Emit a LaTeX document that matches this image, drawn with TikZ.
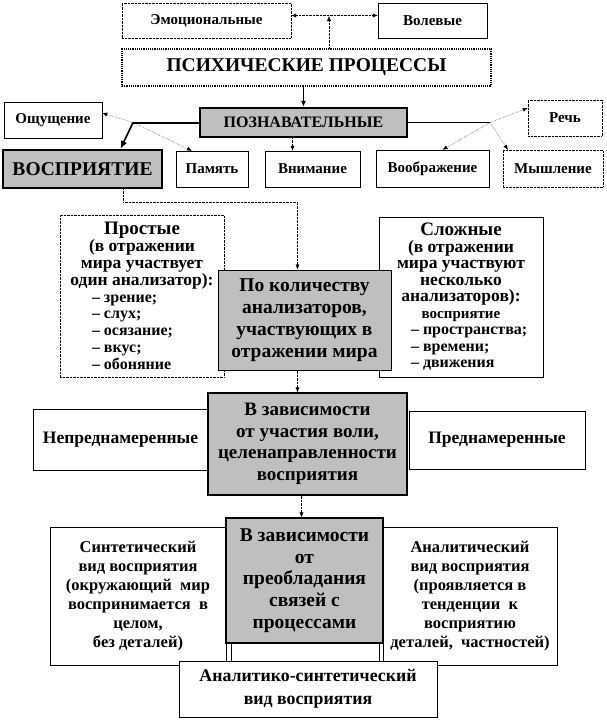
\documentclass[tikz,border=0pt]{standalone}
\usepackage{fontspec}
\setmainfont{Liberation Serif}
\usetikzlibrary{arrows.meta}
\newcommand{\lstitem}[1]{\makebox[100pt][l]{\fontsize{16}{16}\selectfont #1}}

\begin{document}
\begin{tikzpicture}[x=1pt,y=-1pt,
  box/.style={draw, fill=white, align=center, inner sep=1pt, font=\bfseries\fontsize{15}{16}\selectfont},
  dotbox/.style={box, densely dotted},
  graybox/.style={draw, fill=gray!50, line width=1.2pt, align=center, inner sep=1pt, font=\bfseries\fontsize{19}{21.5}\selectfont},
  link/.style={densely dotted, -{Latex[length=5pt,width=4pt]}},
  ]
\useasboundingbox (0,0) rectangle (606,720);

% psychic processes
\node[dotbox, minimum width=169pt, minimum height=35pt] (emo) at (206.5,20.5) {Эмоциональные};
\node[box, minimum width=109pt, minimum height=35pt] (vol) at (432.5,20.5) {Волевые};
\node[dotbox, line width=1.2pt, minimum width=369pt, minimum height=37pt, font=\bfseries\fontsize{19.5}{21}\selectfont] (psy) at (306.5,67.5) {ПСИХИЧЕСКИЕ ПРОЦЕССЫ};
\node[graybox, line width=2.2pt, minimum width=207pt, minimum height=29pt, font=\bfseries\fontsize{16}{17}\selectfont] (pozn) at (303.5,122.5) {ПОЗНАВАТЕЛЬНЫЕ};

\node[box, minimum width=98pt, minimum height=36pt] (oshch) at (53,120) {Ощущение};
\node[dotbox, minimum width=74pt, minimum height=36pt] (rech) at (565,118) {Речь};
\node[graybox, line width=2.2pt, minimum width=159pt, minimum height=38pt, font=\bfseries\fontsize{19.5}{21}\selectfont] (vospr) at (82.5,169) {ВОСПРИЯТИЕ};
\node[box, minimum width=72pt, minimum height=36pt] (pamyat) at (212,169) {Память};
\node[box, minimum width=95pt, minimum height=36pt] (vnim) at (312.5,169) {Внимание};
\node[box, minimum width=113pt, minimum height=37pt] (voobr) at (432.5,168.5) {Воображение};
\node[dotbox, minimum width=100pt, minimum height=37pt] (mysh) at (553,168.5) {Мышление};

% by number of analyzers
\node[dotbox, minimum width=164pt, minimum height=162pt, font=\bfseries\fontsize{17.5}{16.8}\selectfont] (prost) at (142,296)
  {{\fontsize{19}{16.8}\selectfont Простые}\\(в отражении\\мира участвует\\один анализатор):\\
   \lstitem{– зрение;}\\\lstitem{– слух;}\\\lstitem{– осязание;}\\\lstitem{– вкус;}\\\lstitem{– обоняние}};
\node[box, minimum width=164pt, minimum height=160pt, font=\bfseries\fontsize{17.5}{16.5}\selectfont] (slozh) at (461,297)
  {{\fontsize{19}{16.5}\selectfont Сложные}\\(в отражении\\мира участвуют\\несколько\\анализаторов):\\
   {\fontsize{15}{19}\selectfont восприятие}\\\lstitem{– пространства;}\\\lstitem{– времени;}\\\lstitem{– движения}};
\node[graybox, line width=1pt, minimum width=173pt, minimum height=100pt, font=\bfseries\fontsize{19.5}{22}\selectfont] (kolvo) at (304.5,320)
  {По количеству\\анализаторов,\\участвующих в\\отражении мира};

% by will
\node[box, minimum width=175pt, minimum height=61pt, font=\bfseries\fontsize{17.5}{18}\selectfont] (nepred) at (120.5,439.5) {Непреднамеренные};
\node[box, minimum width=176pt, minimum height=58pt, font=\bfseries\fontsize{17.5}{18}\selectfont] (pred) at (497,440) {Преднамеренные};
\node[graybox, minimum width=199pt, minimum height=102pt] (volya) at (307.5,444)
  {В зависимости\\от участия воли,\\целенаправленности\\восприятия};

% by connections
\node[box, minimum width=176pt, minimum height=138pt, font=\bfseries\fontsize{16.5}{19}\selectfont] (sint) at (138,596)
  {Синтетический\\вид восприятия\\(окружающий~ мир\\воспринимается~ в\\целом,\\без деталей)};
\node[box, minimum width=174pt, minimum height=138pt, font=\bfseries\fontsize{16.5}{19}\selectfont] (anal) at (470,596)
  {Аналитический\\вид восприятия\\(проявляется в\\тенденции~ к\\восприятию\\деталей,~ частностей)};
\draw[thin] (231,600) rectangle (379,670);
\node[graybox, minimum width=157pt, minimum height=125pt, font=\bfseries\fontsize{19.5}{21.7}\selectfont] (preobl) at (304.5,580.5)
  {В зависимости\\от\\преобладания\\связей с\\процессами};
\node[box, minimum width=258pt, minimum height=56pt, font=\bfseries\fontsize{17.8}{23}\selectfont] (analsint) at (308,689)
  {Аналитико-синтетический\\вид восприятия};

% connectors
\coordinate (emv) at (329,16);
\coordinate (lj) at (133,122.5);
\coordinate (rj) at (490,122.5);
\draw[link, {Latex[length=5pt,width=4pt]}-{Latex[length=5pt,width=4pt]}] ([yshift=5pt]emo.east) -- ([yshift=5pt]vol.west);
\draw[link] (psy.north -| emv) -- (emv);
\draw[-{Latex[length=6pt,width=5pt]}, line width=1.2pt] (psy.south -| pozn.north) -- (pozn.north);
\draw[line width=2pt] (pozn.west) -- (lj);
\draw[link] (lj) -- ([yshift=7pt]oshch.east);
\draw[line width=1.6pt, -{Latex[length=8pt,width=7pt]}] (lj) -- ([xshift=38pt]vospr.north);
\draw[link] (lj) -- ([xshift=-20pt]pamyat.north);
\draw[link] ([xshift=-20pt]vnim.north |- pozn.south) -- ([xshift=-20pt]vnim.north);
\draw (pozn.east) -- (rj);
\draw[link] (rj) -- ([yshift=10pt]rech.west);
\draw[link] (rj) -- ([xshift=10pt]voobr.north);
\draw[link] (rj) -- ([xshift=-45pt]mysh.north);
\draw[link] ([xshift=41pt]vospr.south) -- ++(0,13) -| ([xshift=-7pt]kolvo.north);
\draw[link] ([xshift=-7pt]kolvo.south) -- ([xshift=-7pt]kolvo.south |- volya.north);
\draw[link] ([xshift=-6pt]volya.south) -- ([xshift=-6pt]volya.south |- preobl.north);
\end{tikzpicture}
\end{document}
